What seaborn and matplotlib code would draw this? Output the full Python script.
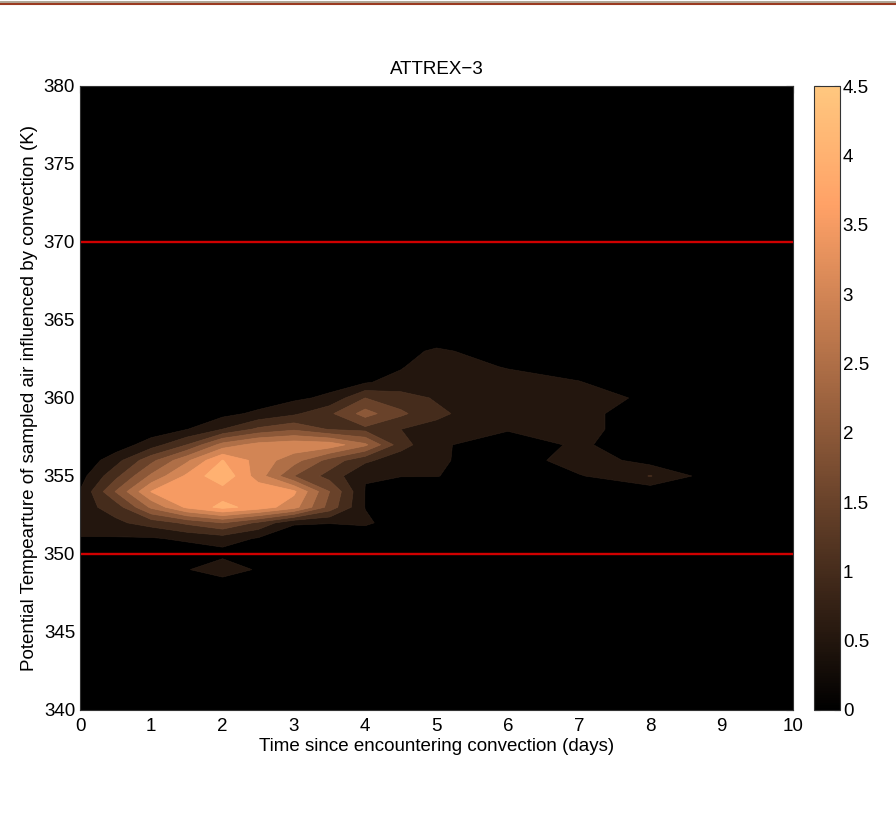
import numpy as np
import matplotlib
matplotlib.use("Agg")
import matplotlib.pyplot as plt
import seaborn as sns
from matplotlib.colors import Normalize
from matplotlib.cm import ScalarMappable

# Days since the air parcel met convection (grid columns; half-day spacing up to day 5)
days = [0, 0.5, 1, 1.5, 2, 2.5, 3, 3.5, 4, 4.5, 5, 6, 7, 8, 9, 10]
# Potential temperature grid (K)
theta = list(range(340, 381))

# Frequency of convectively influenced samples, one list per theta row (K)
row_364 = [0, 0, 0, 0, 0, 0, 0, 0, 0, 0, 0.10, 0, 0, 0, 0, 0]
row_363 = [0, 0, 0, 0, 0, 0, 0, 0, 0.15, 0.30, 0.60, 0.20, 0.10, 0, 0, 0]
row_362 = [0, 0, 0, 0, 0, 0, 0, 0, 0.30, 0.45, 0.85, 0.45, 0.30, 0.10, 0, 0]
row_361 = [0, 0, 0, 0, 0, 0, 0.20, 0.30, 0.45, 0.70, 0.95, 0.80, 0.52, 0.20, 0, 0]
row_360 = [0, 0, 0, 0, 0.10, 0.20, 0.40, 0.60, 1.50, 1.20, 0.95, 0.85, 0.95, 0.30, 0, 0]
row_359 = [0, 0, 0, 0.10, 0.35, 0.60, 0.90, 1.40, 2.20, 1.60, 1.10, 0.60, 0.67, 0.20, 0, 0]
row_358 = [0, 0, 0.20, 0.48, 1.00, 1.60, 1.90, 1.45, 1.35, 1.00, 0.85, 0.55, 0.67, 0.20, 0, 0]
row_357 = [0, 0.20, 0.75, 1.50, 2.70, 3.20, 3.35, 3.30, 2.60, 1.20, 0.60, 0.15, 0.60, 0.10, 0, 0]
row_356 = [0.10, 0.80, 1.85, 2.90, 4.02, 3.30, 2.70, 1.80, 1.10, 0.70, 0.60, 0.10, 0.83, 0.28, 0, 0]
row_355 = [0.30, 1.35, 2.60, 3.60, 4.40, 3.25, 2.00, 1.30, 0.52, 0.52, 0.52, 0.10, 0.45, 1.02, 0.12, 0]
row_354 = [0.52, 2.02, 3.52, 3.80, 3.75, 3.85, 3.60, 2.00, 0.48, 0.05, 0, 0, 0.10, 0.15, 0, 0]
row_353 = [0.80, 1.20, 2.60, 3.60, 4.15, 3.80, 3.20, 1.80, 0.48, 0.02, 0, 0, 0, 0, 0, 0]
row_352 = [0.85, 0.90, 1.20, 1.60, 2.00, 1.40, 0.55, 0.52, 0.60, 0.20, 0, 0, 0, 0, 0, 0]
row_351 = [0.45, 0.45, 0.45, 0.60, 0.75, 0.45, 0.20, 0.10, 0.05, 0, 0, 0, 0, 0, 0, 0]
row_350 = [0, 0, 0, 0.15, 0.30, 0.10, 0, 0, 0, 0, 0, 0, 0, 0, 0, 0]
row_349 = [0, 0, 0, 0.45, 0.95, 0.40, 0, 0, 0, 0, 0, 0, 0, 0, 0, 0]

rows = {349: row_349, 350: row_350, 351: row_351, 352: row_352, 353: row_353,
        354: row_354, 355: row_355, 356: row_356, 357: row_357, 358: row_358,
        359: row_359, 360: row_360, 361: row_361, 362: row_362, 363: row_363,
        364: row_364}

# Contour levels, axis ticks and the reference theta layer
levels = [0, 0.5, 1.0, 1.5, 2.0, 2.5, 3.0, 3.5, 4.0, 4.5]
cbar_ticks = [0, 0.5, 1, 1.5, 2, 2.5, 3, 3.5, 4, 4.5]
cbar_labels = ["0", "0.5", "1", "1.5", "2", "2.5", "3", "3.5", "4", "4.5"]
x_ticks = [0, 1, 2, 3, 4, 5, 6, 7, 8, 9, 10]
y_ticks = [340, 345, 350, 355, 360, 365, 370, 375, 380]
tropopause_layer = [350, 370]

# Build the 2-D field on the grid
Z = np.zeros((len(theta), len(days)))
for k, t in enumerate(theta):
    if t in rows:
        Z[k, :] = rows[t]
X, Y = np.meshgrid(days, theta)

sns.set_style("white")
plt.rcParams["font.family"] = ["Liberation Sans", "DejaVu Sans"]
plt.rcParams["text.color"] = "black"
plt.rcParams["axes.labelcolor"] = "black"
plt.rcParams["xtick.color"] = "black"
plt.rcParams["ytick.color"] = "black"
cmap = sns.color_palette("copper", as_cmap=True)
norm = Normalize(vmin=levels[0], vmax=levels[-1])
# each filled band takes the colour of its lower bounding level
band_colors = [cmap(norm(lv)) for lv in levels[:-1]]

FS = 13.5
fig = plt.figure(figsize=(8.96, 8.19), dpi=100)
ax = fig.add_axes([80 / 896, 1 - 710 / 819, 713 / 896, 624 / 819])
cax = fig.add_axes([814 / 896, 1 - 710 / 819, 26 / 896, 624 / 819])

cs = ax.contourf(X, Y, Z, levels=levels, colors=band_colors, antialiased=True)
# stroke each band with its own fill colour so no seams show between bands
cs.set_edgecolor("face")
cs.set_linewidth(0.6)
for yv in tropopause_layer:
    ax.axhline(yv, color="#d00000", lw=1.7)

ax.set_xlim(0, 10)
ax.set_ylim(340, 380)
ax.set_xticks(x_ticks)
ax.set_yticks(y_ticks)
ax.tick_params(axis="x", direction="in", length=5, top=True, labelsize=FS,
               pad=5.5, color="#222222")
ax.tick_params(axis="y", direction="in", length=5, right=True, labelsize=FS,
               pad=3.5, color="#222222")
for s in ax.spines.values():
    s.set_color("#333333")
    s.set_linewidth(0.8)
ax.set_title("ATTREX\u22123", fontsize=FS, pad=9)
ax.set_xlabel("Time since encountering convection (days)", fontsize=FS, labelpad=2.5)
ax.set_ylabel("Potential Tempearture of sampled air influenced by convection (K)",
              fontsize=FS, labelpad=4)

sm = ScalarMappable(norm=norm, cmap=cmap)
cb = fig.colorbar(sm, cax=cax, ticks=cbar_ticks)
cb.ax.set_yticklabels(cbar_labels)
cb.ax.tick_params(direction="in", length=4, labelsize=FS, pad=2, left=True,
                  right=True, color="#333333")
cb.outline.set_edgecolor("#333333")
cb.outline.set_linewidth(0.8)

# thin banner strip across the top edge of the figure
fig.add_artist(plt.Line2D([0, 1], [1 - 1.5 / 819, 1 - 1.5 / 819],
                          transform=fig.transFigure, color="#b0a898", lw=2.2))
fig.add_artist(plt.Line2D([0, 1], [1 - 4 / 819, 1 - 4 / 819],
                          transform=fig.transFigure, color="#9a3a20", lw=1.5))

fig.savefig("out.png", dpi=100, facecolor="white")
